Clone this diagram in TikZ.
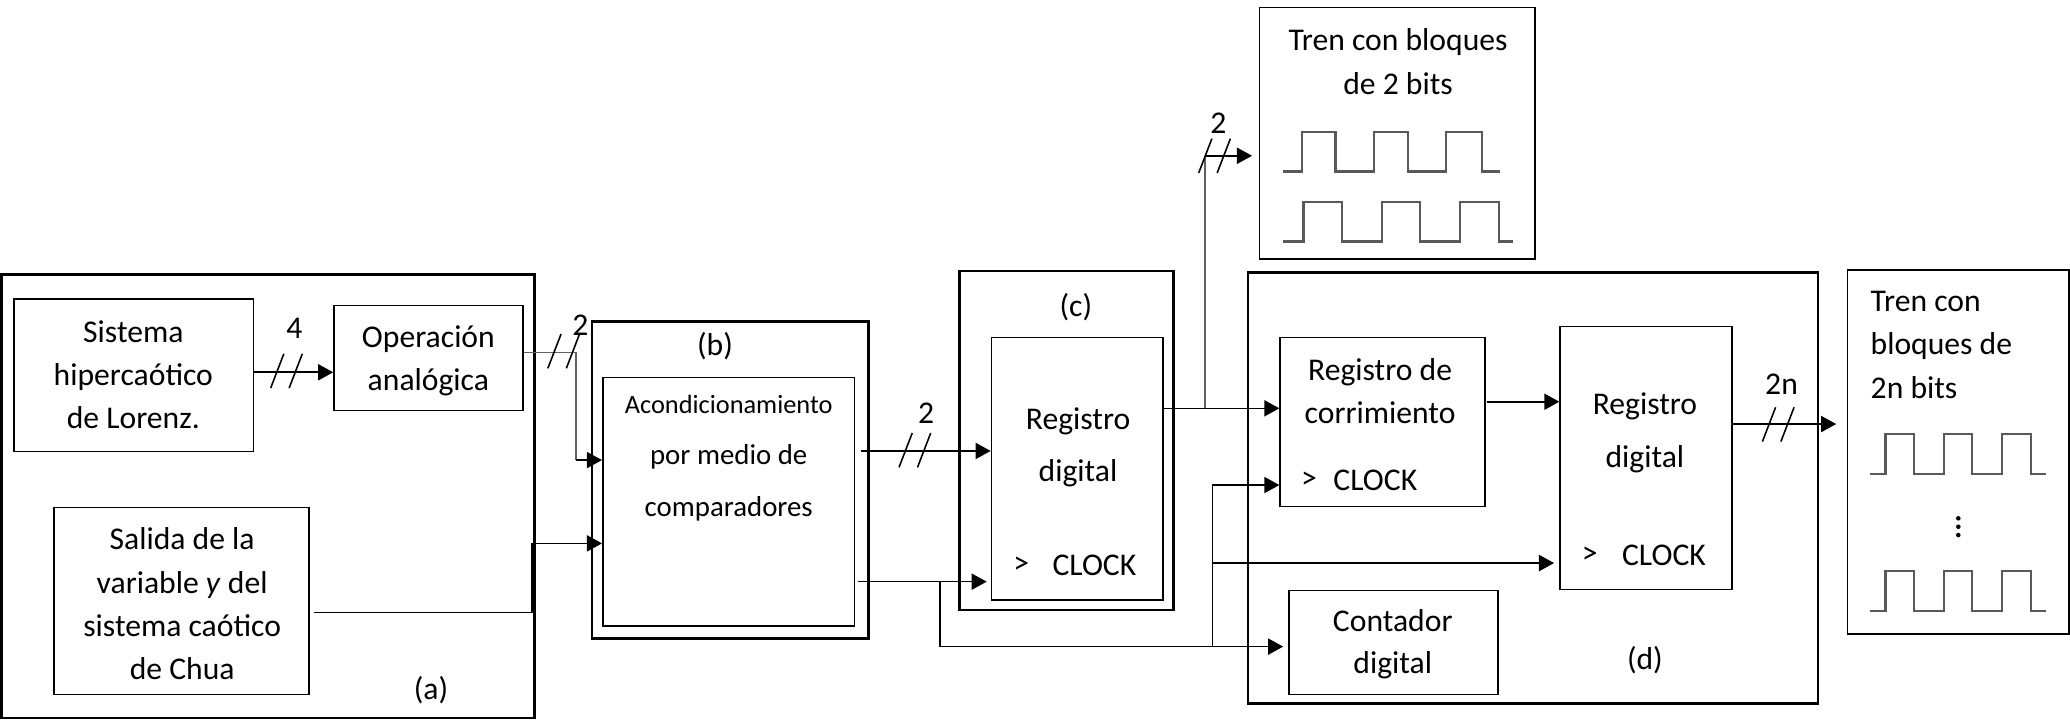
\documentclass[tikz,border=0pt]{standalone}
\usepackage{fontspec}
\setmainfont{Carlito}
\usetikzlibrary{arrows.meta,fit,calc}
\begin{document}
\begin{tikzpicture}[x=0.0132cm,y=-0.0132cm,
  font=\fontsize{9}{12.3}\selectfont,
  thickbox/.style={draw, line width=0.75pt, inner sep=0pt},
  thinbox/.style={draw, line width=0.45pt, inner sep=0pt},
  txt/.style={inner sep=0pt, align=center},
  wide/.style={font=\fontsize{9}{14.8}\selectfont},
  wire/.style={line width=0.45pt},
  gwire/.style={line width=0.55pt, draw=black!62},
  arr/.style={wire, -{Triangle[length=4.3pt,width=4.6pt]}},
  wave/.style={line width=0.65pt, draw=black!65, line join=miter},
  dslash/.pic={\draw[line width=0.45pt] (-12,13) -- (-2,-13) (2,13) -- (12,-13);}
]
\useasboundingbox (0,0) rectangle (1568,545.45);

% ---------- boxes ----------
\node[thickbox, fit={(1,208)(405,544)}] (A) {};
\node[thinbox, fit={(10.5,226.5)(192,342)}] (S) {};
\node[thinbox, fit={(253,231.5)(396,311)}] (Op) {};
\node[thinbox, fit={(41,384.5)(234,526)}] (Sa) {};
\node[thickbox, fit={(448.3,243.7)(658,483.5)}] (B) {};
\node[thinbox, fit={(456.6,286)(647.3,474)}] (Bi) {};
\node[thickbox, fit={(726.6,205.3)(888.7,462)}] (C) {};
\node[thinbox, fit={(751,255.8)(881,454.5)}] (Ci) {};
\node[thinbox, fit={(954,5.6)(1162.7,196.4)}] (Tr) {};
\node[thickbox, fit={(945.4,206.5)(1377,532.8)}] (D) {};
\node[thinbox, fit={(969.7,255.5)(1125,383.8)}] (Rc) {};
\node[thinbox, fit={(1181.8,247.4)(1312,446.4)}] (Rd) {};
\node[thinbox, fit={(976.6,447.4)(1134.6,526)}] (Co) {};
\node[thinbox, fit={(1399.5,204.3)(1567.3,480.3)}] (T2) {};

% ---------- texts ----------
\node[txt] at (101,284) {Sistema\\hipercaótico\\de Lorenz.};
\node[txt] at (324.5,273.3) {Operación\\analógica};
\node[txt] at (138,457.5) {Salida de la\\variable \textit{y} del\\sistema caótico\\de Chua};
\node[txt] at (326.5,522.7) {(a)};
\node[txt] at (541.6,262) {(b)};
\node[txt, font=\fontsize{8.2}{14.6}\selectfont] at (552,347)
  {{\fontsize{7.5}{14.6}\selectfont Acondicionamiento}\\por medio de\\comparadores};
\node[txt] at (815,233) {(c)};
\node[txt, wide] at (816.6,339) {Registro\\digital};
\node[txt] at (773.5,428) {>};
\node[txt] at (829,428) {CLOCK};
\node[txt, font=\fontsize{9}{12.3}\selectfont] at (1059,46.6) {Tren con bloques\\de 2 bits};
\node[txt] at (1045.4,296.5) {Registro de\\corrimiento};
\node[txt] at (991.6,363.6) {>};
\node[txt] at (1041.8,363.6) {CLOCK};
\node[txt, wide, font=\fontsize{9}{15.1}\selectfont] at (1246,328.2) {Registro\\digital};
\node[txt] at (1204.3,420.4) {>};
\node[txt] at (1260.4,420.4) {CLOCK};
\node[txt, font=\fontsize{9}{11.9}\selectfont] at (1055,487.9) {Contador\\digital};
\node[txt] at (1246,500) {(d)};
\node[txt, align=left, anchor=west] at (1416.5,261.3) {Tren con\\bloques de\\2n bits};

% ---------- connectors ----------
\draw[arr] (S.east |- 0,282) -- (Op.west |- 0,282);
\pic at (217,281) {dslash};
\node[txt] at (223,248.6) {4};

\coordinate (o1) at (436,267);
\coordinate (o2) at (436,348.5);
\draw[gwire] (Op.east |- o1) -- (o1) -- (o2);
\draw[arr] (o2) -- (Bi.west |- o2);
\pic at (427,266) {dslash};
\node[txt] at (439.6,246) {2};

\coordinate (s2) at (403,464);
\coordinate (s3) at (403,411.6);
\draw[wire] ($(Sa.east |- s2)+(3,0)$) -- (s2) -- (s3);
\draw[arr] (s3) -- (Bi.west |- s3);

\draw[arr] ($(Bi.east |- 0,341.6)+(4,0)$) -- (Ci.west |- 0,341.6);
\pic at (693,341) {dslash};
\node[txt] at (701.5,313) {2};

\coordinate (b1) at (712,440.6);
\coordinate (b2) at (712,489.8);
\draw[arr] ($(Bi.east |- b1)+(2,0)$) -- ($(Ci.west |- b1)+(-3,0)$);
\draw[arr] (b1) -- (b2) -- ($(Co.west |- b2)+(-4,0)$);

\coordinate (k1) at (918.4,489.8);
\coordinate (k2) at (918.4,367.4);
\coordinate (k3) at (918.4,426.5);
\draw[arr] (k1) -- (k2) -- (Rc.west |- k2);
\draw[arr] (k3) -- ($(Rd.west |- k3)+(-4,0)$);

\coordinate (t1) at (912.9,309.3);
\coordinate (t2) at (912.9,118);
\draw[arr] (Ci.east |- t1) -- (Rc.west |- t1);
\draw[gwire] (t1) -- (t2);
\draw[arr] (t2) -- ($(Tr.west |- t2)+(-5,0)$);
\pic at (920,118) {dslash};
\node[txt] at (922.9,93.4) {2};

\draw[arr] ($(Rc.east |- 0,304.3)+(1,0)$) -- (Rd.west |- 0,304.3);
\draw[arr] (Rd.east |- 0,321.2) -- ($(T2.west |- 0,321.2)+(-8,0)$);
\pic at (1347,321.5) {dslash};
\node[txt] at (1349.5,291) {2n};

% ---------- waveforms ----------
\draw[wave] (971.6,130) -- (986.5,130) -- (986.5,100) -- (1011.7,100) -- (1011.7,130) -- (1040.8,130)
  -- (1040.8,100) -- (1066.8,100) -- (1066.8,130) -- (1095.3,130) -- (1095.3,100) -- (1122.4,100)
  -- (1122.4,130) -- (1136.4,130);
\draw[wave] (971.6,183) -- (987.3,183) -- (987.3,152.8) -- (1016.4,152.8) -- (1016.4,183) -- (1047,183)
  -- (1047,152.8) -- (1075.6,152.8) -- (1075.6,183) -- (1105.9,183) -- (1105.9,152.8) -- (1135.7,152.8)
  -- (1135.7,183) -- (1145.8,183);
\foreach \yb/\yt in {359.3/328.7, 462.8/432.3}{
  \draw[wave] (1416.5,\yb) -- (1428.3,\yb) -- (1428.3,\yt) -- (1450,\yt) -- (1450,\yb) -- (1472.8,\yb)
    -- (1472.8,\yt) -- (1494,\yt) -- (1494,\yb) -- (1516.7,\yb) -- (1516.7,\yt) -- (1538.2,\yt)
    -- (1538.2,\yb) -- (1549.8,\yb);
}
\foreach \yd in {392.6,399,405.3}{\fill (1483.4,\yd) circle (0.65pt);}
\end{tikzpicture}
\end{document}
